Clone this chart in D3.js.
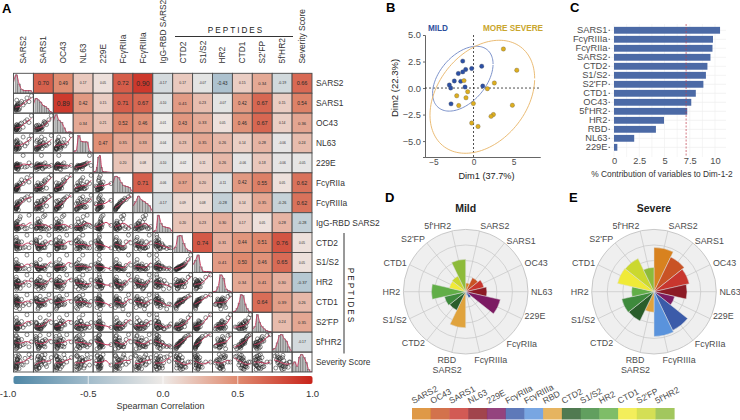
<!DOCTYPE html>
<html><head><meta charset="utf-8">
<script src="https://cdn.jsdelivr.net/npm/d3@7/dist/d3.min.js"></script>
<style>html,body{margin:0;padding:0;background:#fff}svg{display:block}text{font-family:"Liberation Sans",Arial,sans-serif}</style>
</head><body><svg id="c" width="740" height="420"></svg>
<script>
// ---------- Panel A data ----------
const varTop = ["SARS2","SARS1","OC43","NL63","229E","FcγRIIa","FcγRIIIa","IgG-RBD SARS2","CTD2","S1/S2","HR2","CTD1","S2'FP","5f'HR2","Severity Score"];
const corRows = [
 [0.70,0.49,0.17,0.05,0.72,0.90,-0.17,0.17,-0.07,-0.43,0.15,0.34,-0.19,0.66],
 [0.89,0.42,0.15,0.71,0.67,-0.10,0.41,0.23,-0.07,0.42,0.67,0.15,0.54],
 [0.34,0.21,0.52,0.46,-0.01,0.43,0.33,0.05,0.46,0.67,0.14,0.36],
 [0.47,0.35,0.33,-0.04,0.23,0.35,0.26,0.14,0.28,-0.06,0.24],
 [0.20,0.08,-0.10,-0.02,0.11,0.26,-0.06,0.18,-0.06,-0.05],
 [0.71,-0.06,0.37,0.20,-0.11,0.42,0.55,0.05,0.62],
 [-0.17,0.09,0.08,-0.28,0.14,0.35,-0.26,0.62],
 [0.20,0.23,0.30,0.17,0.05,0.28,-0.28],
 [0.74,0.31,0.44,0.51,0.76,0.05],
 [0.41,0.50,0.46,0.65,0.05],
 [0.34,0.41,0.30,-0.37],
 [0.64,0.39,0.26],
 [0.24,0.35],
 [-0.17]
];
const vSARS2=[.03,.08,.02,.14,.05,.22,.04,.1,.3,.06,.12,.02,.18,.07,.38,.09,.05,.26,.13,.6,.04,.16,.48,.08,.11,.72,.85,1];
const vSARS1=[.1,.22,.05,.3,.14,.06,.18,.35,.5,.03,.26,.08,.42,.2,.62,.12,.3,.16,.46,.55,.24,.08,.38,.7,.34,.85,.6,1];
const vOC43=[.08,.14,.03,.24,.06,.3,.1,.18,.44,.05,.12,.2,.04,.36,.5,.16,.26,.07,.28,.6,.1,.34,.22,.4,.14,.72,.54,1];
const vNL63=[.1,.3,.05,.42,.18,.22,.08,.35,.5,.14,.28,.6,.12,.2,.38,.7,.25,.16,.45,.3,.55,.08,.9,.34,.62,.48,.75,1];
const v229E=[.22,.3,.18,.35,.25,.28,.12,.32,.4,.2,.26,.38,.15,.3,.24,.45,.28,.34,.1,.22,.36,.05,1,.3,.42,.26,.5,.33];
const vIIa=[.05,.2,.03,.12,.08,.3,.02,.15,.4,.06,.25,.1,.04,.35,.7,.18,.09,.5,.22,.62,.12,.28,.45,.14,.32,.85,.55,1];
const vIIIa=[.1,.26,.05,.3,.16,.42,.08,.2,.52,.12,.34,.18,.02,.48,.72,.24,.14,.6,.38,.8,.22,.44,.66,.28,.56,.9,.68,1];
const vIgG=[.15,.3,.08,.6,.2,.12,.35,.05,.9,.25,.18,.45,.1,.55,.22,.38,.14,.75,.28,.09,.48,.16,.32,.06,.2,.12,1,.24];
const vCTD2=[.38,.12,.62,.22,.3,.5,.08,.28,.16,.7,.05,.42,.34,.18,.55,.25,.85,.1,.45,.2,.32,.6,.14,.4,.28,1,.15,.48];
const vS1S2=[.2,.06,.36,.14,.1,.24,.05,.16,.12,.48,.03,.26,.18,.08,.3,.22,.7,.07,.28,.11,.2,.4,.09,.25,.15,1,.04,.32];
const vHR2=[.55,.3,.2,.62,.42,.38,.7,.25,.1,.5,.34,.46,.6,.05,.44,.28,.85,.4,.22,.52,.36,.58,.32,.48,.15,1,.3,.66];
const vCTD1=[.6,.4,.72,.3,.5,.55,.15,.65,.38,.8,.25,.62,.45,.35,.7,.52,.9,.05,.58,.42,.48,.75,.28,.68,.46,1,.33,.56];
const vS2FP=[.12,.3,.2,.05,.08,.4,.16,.02,.24,.5,.1,.14,.28,.06,.55,.22,.8,.18,.36,.32,.26,.45,.15,.6,.09,1,.38,.48];
const v5f=[.5,.1,.72,.3,.38,.62,.05,.42,.25,.88,.15,.48,.55,.22,.68,.35,.95,.2,.6,.4,.45,.78,.33,.58,.28,1,.18,.52];
const vSev=[0,.1,.2,.8,.3,.05,.9,.4,.55,.15,.65,.25,.95,.45,.35,.7,.5,.85,.6,.75,.1,.4,.3,.2,.65,.5,1,.8];
const matrixVals=[vSARS2,vSARS1,vOC43,vNL63,v229E,vIIa,vIIIa,vIgG,vCTD2,vS1S2,vHR2,vCTD1,vS2FP,v5f,vSev];
const diagHist=[
 [1,.5,.2,.14,.14,.14],
 [.8,.72,.6,.42,.36,.26,.1],
 [1,.7,.58,.28,.04,.06],
 [.12,.95,.62,.6,.6,.1],
 [.08,.3,.85,.95,.3,.06,.05,.05],
 [.9,.82,.55,.38,.34,.28],
 [.6,.9,.7,.62,.5,.38],
 [.1,.95,.5,.32,.28,.25],
 [.3,.9,.92,.5,.2,.1],
 [.65,.95,.3,.06,.04,.04],
 [.06,.3,.95,.75,.18,.08],
 [.06,.2,.5,.95,.9,.45,.2,.06],
 [.3,.95,.55,.3,.18,.08,.04],
 [.2,.5,.9,.95,.72,.6,.28],
 [.55,.3,.8,.95,.78,.5,.12]
];
// ---------- Panel B data ----------
const mildDim1=[-1.35,1.02,-0.23,-0.98,-1.35,-1.9,-2.4,-1.6,-3.02,-2.85,-1.06,1.15,-2.81];
const mildDim2=[2.54,2.06,1.84,1.75,1.52,1.37,0.67,0.63,0.29,0,0.1,0.19,-1.49];
const severeDim1=[3.73,5.4,2.6,1.73,-1.19,-0.73,-2.1,-0.94,-1.85,-0.02,4.85,2.48,2.19,-0.23,0.56];
const severeDim2=[3.68,1.68,0.48,-0.06,0.7,-0.35,-0.73,-0.92,-1.65,-1.46,-1.62,-2.5,-2.67,-3.3,-3.62];
// ---------- Panel C data ----------
const contribNames=["SARS1","FcγRIIIa","FcγRIIa","SARS2","CTD2","S1/S2","S2'FP","CTD1","OC43","5f'HR2","HR2","RBD","NL63","229E"];
const contribVals=[10.5,9.8,9.75,9.55,9.25,9.1,8.85,8.1,7.65,7.25,4.95,4.15,2.0,0.33];
const contribRef=[7.14];
// ---------- Panels D/E data ----------
const polarNames=["SARS2","SARS1","OC43","NL63","229E","FcγRIIa","FcγRIIIa","RBD|SARS2","CTD2","S1/S2","HR2","CTD1","S2'FP","5f'HR2"];
const polarColors=["#D8821F","#C95325","#C8362E","#8C1B25","#7C1A62","#3B5BA9","#5A93DC","#E0A33D","#2A5D2B","#3E8A3C","#61AE47","#F0EA37","#CBD82F","#8DBB3A"];
const mildVals=[.14,.25,.30,.34,.57,.11,.05,.58,.33,.35,.55,.27,.28,.52];
const severeVals=[.71,.62,.58,.53,.34,.69,.72,.33,.52,.53,.36,.60,.59,.39];
const legendNames=["SARS2","OC43","SARS1","NL63","229E","FcγRIIa","FcγRIIIa","RBD","CTD2","S1/S2","HR2","CTD1","S2'FP","5f'HR2"];
const colorTicks=[-1,-0.5,0,0.5,1];

const svg=d3.select("#c");
const G="#4d4d4d";
const label=(t,x,y)=>svg.append("text").attr("x",x).attr("y",y).attr("font-size",13).attr("font-weight","bold").text(t);
label("A",2,13);label("B",386,12);label("C",570,12);label("D",385,202);label("E",569,202);

// ---------- Panel A ----------
const n=varTop.length, mx=d3.scaleBand().domain(d3.range(n)).range([13.5,312]).paddingInner(0).paddingOuter(0);
const my=d3.scaleBand().domain(d3.range(n)).range([73.3,372]);
const cw=mx.bandwidth(), ch=my.bandwidth();
const corColor=d3.scaleLinear().domain([-1,-.5,0,.5,1]).range(["#4F87A6","#A2BCCB","#EEEAE7","#DF8A6F","#C8241B"]);
const defs=svg.append("defs");
const A=svg.append("g");
const red="#C5365B";
defs.append("clipPath").attr("id","cell").append("rect").attr("width",cw).attr("height",ch);
d3.range(n).forEach(r=>{
  d3.range(n).forEach(c=>{
    const g=A.append("g").attr("transform",`translate(${mx(c)},${my(r)})`);
    const clipG=g.append("g").attr("clip-path","url(#cell)");
    if(c>r){
      const v=corRows[r][c-r-1];
      g.append("rect").attr("width",cw).attr("height",ch).attr("fill",corColor(v));
      g.append("text").attr("x",cw/2).attr("y",ch/2).attr("dy",".35em").attr("text-anchor","middle")
       .attr("font-size",3+4.4*Math.pow(Math.abs(v),1.3)).attr("fill","#2a2a2a").text(v.toFixed(2));
    } else if(c<r){
      const sx=d3.scaleLinear().domain([0,1]).range([2,cw-2]), sy=d3.scaleLinear().domain([0,1]).range([ch-2.5,2.5]);
      const xs=matrixVals[c], ys=matrixVals[r];
      clipG.selectAll("circle").data(xs).join("circle").attr("cx",d=>sx(d)).attr("cy",(d,i)=>sy(ys[i]))
        .attr("r",2).attr("fill","none").attr("stroke","#2b2b2b").attr("stroke-width",.55);
      const grid=d3.range(0,1.001,.125);
      const sm=grid.map(g0=>{let w=0,s=0;xs.forEach((x,i)=>{const k=Math.exp(-((x-g0)*(x-g0))/(2*.15*.15));w+=k;s+=k*ys[i];});return [g0,s/w];});
      clipG.append("path").attr("d",d3.line().x(d=>sx(d[0])).y(d=>sy(d[1])).curve(d3.curveBasis)(sm))
        .attr("fill","none").attr("stroke",red).attr("stroke-width",1);
    } else {
      const h=diagHist[r], bx=d3.scaleBand().domain(d3.range(h.length)).range([1.5,cw-(r==4?6:2)]).padding(.03);
      const by=d3.scaleLinear().domain([0,1]).range([ch,1.5]);
      clipG.selectAll("rect").data(h).join("rect").attr("x",(d,i)=>bx(i)).attr("width",bx.bandwidth())
        .attr("y",d=>by(d)).attr("height",d=>ch-by(d)).attr("fill","#BDBDBD").attr("stroke","#555").attr("stroke-width",.4);
      const pts=[[0,0]].concat(h.map((d,i)=>[bx(i)+bx.bandwidth()/2,by(d)]),[[cw,ch]]);
      clipG.append("path").attr("d",d3.line().curve(d3.curveMonotoneX)(pts.map((p,i)=>i==0?[p[0],by(h[0]*.6)]:p)))
        .attr("fill","none").attr("stroke",red).attr("stroke-width",.9);
    }
    g.append("rect").attr("width",cw).attr("height",ch).attr("fill","none").attr("stroke","#4a4a4a").attr("stroke-width",.9);
  });
});
A.selectAll(".tl").data(varTop).join("text").attr("font-size",8.4).attr("fill","#333")
  .attr("transform",(d,i)=>`translate(${mx(i)+cw/2+3},63.5) rotate(-90)`).text(d=>d);
A.selectAll(".rl").data(varTop.slice(0)).join("text").attr("font-size",8.4).attr("fill","#333")
  .attr("x",316).attr("y",(d,i)=>my(i)+ch/2+3).text((d,i)=>d);
A.append("text").attr("x",236).attr("y",33).attr("text-anchor","middle").attr("font-size",8.2).attr("letter-spacing",2).attr("fill","#222").text("PEPTIDES");
A.append("line").attr("x1",175).attr("x2",293).attr("y1",36.5).attr("y2",36.5).attr("stroke","#333");
A.append("line").attr("x1",344).attr("x2",344).attr("y1",233).attr("y2",353.5).attr("stroke","#333");
A.append("text").attr("transform","translate(348,296) rotate(90)").attr("text-anchor","middle").attr("font-size",8.2).attr("letter-spacing",2).attr("fill","#222").text("PEPTIDES");
// colorbar
const cb=d3.scaleLinear().domain([-1,1]).range([13.5,312.5]);
const lg=defs.append("linearGradient").attr("id","cg");
[-1,-.5,0,.5,1].forEach(v=>lg.append("stop").attr("offset",(v+1)/2).attr("stop-color",corColor(v)));
A.append("rect").attr("x",13.5).attr("y",376).attr("width",299).attr("height",8).attr("rx",2).attr("fill","url(#cg)");
A.selectAll(".cbt").data(colorTicks.slice(1,-1)).join("line").attr("x1",d=>cb(d)).attr("x2",d=>cb(d)).attr("y1",376).attr("y2",384).attr("stroke","#fff").attr("stroke-width",.7);
A.selectAll(".cbl").data(colorTicks).join("text").attr("x",d=>d==-1?8:cb(d)).attr("y",396.5).attr("text-anchor","middle").attr("font-size",9.5).attr("fill","#333").text(d=>d.toFixed(1));
A.append("text").attr("x",160.5).attr("y",409).attr("text-anchor","middle").attr("font-size",9).attr("fill","#333").text("Spearman Correlation");

// ---------- Panel B ----------
const bx=d3.scaleLinear().domain([-6.06,8.3]).range([425,540]);
const by=d3.scaleLinear().domain([-6.5,5]).range([157,35]);
const B=svg.append("g");
const styleAxis=g=>{g.selectAll("text").attr("font-size",9.3).attr("fill",G).attr("font-family","Liberation Sans");g.selectAll("path,line").attr("stroke","#666");};
const bAxisX=B.append("g").attr("transform","translate(0,157)").call(d3.axisBottom(bx).tickValues([-5,0,5]).tickFormat(d3.format("d")).tickSize(1).tickPadding(1)).call(styleAxis);
bAxisX.selectAll("text").attr("font-size",8.4);
B.append("g").attr("transform","translate(425,0)").call(d3.axisLeft(by).tickValues([-5,-2.5,0,2.5,5]).tickFormat(d3.format(".1f")).tickSize(2).tickPadding(2)).call(styleAxis);
B.append("line").attr("x1",bx(0)).attr("x2",bx(0)).attr("y1",35).attr("y2",157).attr("stroke","#222").attr("stroke-width",.8).attr("stroke-dasharray","2,2");
B.append("line").attr("x1",425).attr("x2",540).attr("y1",by(0)).attr("y2",by(0)).attr("stroke","#222").attr("stroke-width",.8).attr("stroke-dasharray","2,2");
function ellipse(xs,ys,k,color){
  const mxx=d3.mean(xs),myy=d3.mean(ys),m=xs.length;
  let a=0,b=0,c=0;xs.forEach((x,i)=>{a+=(x-mxx)**2;b+=(x-mxx)*(ys[i]-myy);c+=(ys[i]-myy)**2;});a/=m-1;b/=m-1;c/=m-1;
  const l11=Math.sqrt(a),l21=b/l11,l22=Math.sqrt(c-l21*l21);
  const pts=d3.range(0,2*Math.PI+.01,.05).map(t=>{const u=k*Math.cos(t),v=k*Math.sin(t);return [bx(mxx+l11*u),by(myy+l21*u+l22*v)];});
  B.append("path").attr("d",d3.line()(pts)).attr("fill","none").attr("stroke",color).attr("stroke-width",.9);
}
ellipse(mildDim1,mildDim2,2.79,"#6D86C4");
ellipse(severeDim1,severeDim2,2.73,"#E8B466");
const dots=(xs,ys,f)=>B.append("g").selectAll("circle").data(xs).join("circle").attr("cx",d=>bx(d)).attr("cy",(d,i)=>by(ys[i])).attr("r",2.2).attr("fill",f).attr("stroke","#555").attr("stroke-width",.3);
dots(mildDim1,mildDim2,"#2C50A5");dots(severeDim1,severeDim2,"#DDAE1F");
B.append("text").attr("x",428).attr("y",30.5).attr("font-size",8.2).attr("font-weight","bold").attr("fill","#2F4F9C").text("MILD");
B.append("text").attr("x",483).attr("y",30.5).attr("font-size",8.2).attr("font-weight","bold").attr("fill","#C9A62E").text("MORE SEVERE");
B.append("text").attr("transform","translate(398,88) rotate(-90)").attr("text-anchor","middle").attr("font-size",9.5).attr("fill","#222").text("Dim2 (22.3%)");
B.append("text").attr("x",486.5).attr("y",178.5).attr("text-anchor","middle").attr("font-size",9.2).attr("fill","#222").text("Dim1 (37.7%)");

// ---------- Panel C ----------
const cx=d3.scaleLinear().domain([0,10]).range([614,715]);
const cy=d3.scaleBand().domain(contribNames).range([24.7,152.9]).padding(.24);
const C=svg.append("g");
C.selectAll(".g1").data(d3.range(0,11.1,1.25)).join("line").attr("x1",d=>cx(d)).attr("x2",d=>cx(d)).attr("y1",24).attr("y2",157).attr("stroke","#f1f1f1").attr("stroke-width",.7);
C.selectAll(".g2").data(contribNames).join("line").attr("x1",610).attr("x2",726).attr("y1",d=>cy(d)+cy.bandwidth()/2).attr("y2",d=>cy(d)+cy.bandwidth()/2).attr("stroke","#eee").attr("stroke-width",.7);
C.selectAll(".b").data(contribVals).join("rect").attr("x",cx(0)).attr("y",(d,i)=>cy(contribNames[i])).attr("height",cy.bandwidth()).attr("width",d=>cx(d)-cx(0)).attr("fill","#4C6AA6");
C.selectAll(".r").data(contribRef).join("line").attr("x1",d=>cx(d)).attr("x2",d=>cx(d)).attr("y1",24).attr("y2",157).attr("stroke","#C0404F").attr("stroke-width",.7).attr("stroke-dasharray","2,1.5");
const cAxisY=C.append("g").attr("transform","translate(610,0)").call(d3.axisLeft(cy).tickSize(1.5).tickPadding(1));
cAxisY.select(".domain").remove();cAxisY.call(styleAxis);
const cAxisX=C.append("g").attr("transform","translate(0,155)").call(d3.axisBottom(cx).tickValues([0,2.5,5,7.5,10]).tickFormat(d3.format("")).tickSize(0).tickPadding(2));
cAxisX.select(".domain").remove();cAxisX.call(styleAxis);
C.append("text").attr("x",662).attr("y",177).attr("text-anchor","middle").attr("font-size",8.4).attr("fill","#333").text("% Contribution of variables to Dim-1-2");

// ---------- Panels D/E ----------
function polar(cxp,cyp,vals,title){
  const R=62.3, r=d3.scaleLinear().domain([0,1]).range([0,R]);
  const g=svg.append("g").attr("transform",`translate(${cxp},${cyp})`);
  const step=2*Math.PI/polarNames.length;
  g.append("circle").attr("r",R).attr("fill","#EFEFEF").attr("stroke","#BDBDBD").attr("stroke-width",.8);
  [.25,.5,.75].forEach(k=>g.append("circle").attr("r",r(k)).attr("fill","none").attr("stroke","#C6C6C6").attr("stroke-width",.7));
  polarNames.forEach((nm,i)=>{
    const a=(i+.5)*step;
    g.append("line").attr("x2",R*Math.sin(a)).attr("y2",-R*Math.cos(a)).attr("stroke","#C6C6C6").attr("stroke-width",.7);
  });
  const arc=d3.arc().innerRadius(0);
  g.selectAll(".w").data(vals).join("path").attr("d",(d,i)=>arc({outerRadius:r(d),startAngle:i*step,endAngle:(i+1)*step}))
    .attr("fill",(d,i)=>polarColors[i]).attr("stroke","#DDD").attr("stroke-width",.5);
  polarNames.forEach((nm,i)=>{
    const a=(i+.5)*step, lr=R*1.05;
    let x=lr*Math.sin(a), y=-lr*Math.cos(a)+3;
    const right=i<7;
    if(i==6){x-=6;y+=5;} if(i==7){x+=5;y+=5;}
    if(i==4)y-=4; if(i==0||i==13)y-=2; if(i==5)y+=1; if(i==12)y-=2;
    const t=g.append("text").attr("x",x).attr("y",y).attr("font-size",8.9).attr("fill",G).attr("text-anchor",right?"start":"end");
    const parts=nm.split("|");
    t.text(parts[0]);
    if(parts[1]) g.append("text").attr("x",x-9).attr("y",y+10).attr("font-size",8.9).attr("fill",G).attr("text-anchor","middle").text(parts[1]);
  });
  svg.append("text").attr("x",cxp).attr("y",cyp-80).attr("text-anchor","middle").attr("font-size",10.5).attr("font-weight","bold").attr("fill","#222").text(title);
}
polar(465.7,291.7,mildVals,"Mild");
polar(654,291.7,severeVals,"Severe");

// ---------- Legend ----------
const lx=d3.scaleBand().domain(d3.range(legendNames.length)).range([412,674.3]);
const L=svg.append("g");
L.selectAll("rect").data(legendNames).join("rect").attr("x",(d,i)=>lx(i)).attr("y",408).attr("width",lx.bandwidth()+.3).attr("height",11.5)
 .attr("fill",(d,i)=>polarColors[i]).attr("opacity",.82);
L.selectAll("text").data(legendNames).join("text").attr("transform",(d,i)=>`translate(${lx(i)+1.5},404) rotate(-28)`)
 .attr("font-size",8.6).attr("fill",G).text(d=>d);
</script></body></html>
